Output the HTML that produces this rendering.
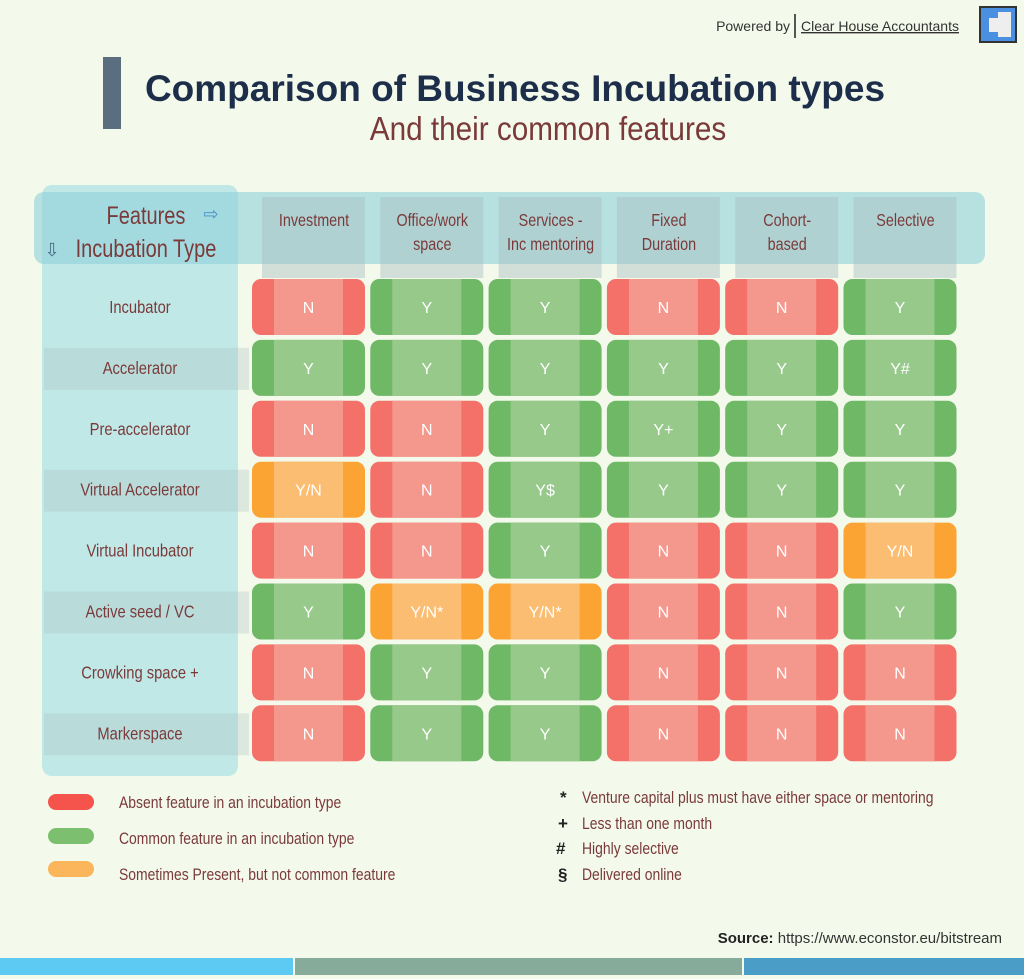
<!DOCTYPE html>
<html><head><meta charset="utf-8">
<style>
html,body{margin:0;padding:0;background:#f3f9eb;}
svg{display:block;font-family:"Liberation Sans",sans-serif;}
</style></head><body>
<svg id="chart" width="1024" height="979" viewBox="0 0 1024 979">
<rect x="0" y="0" width="1024" height="979" fill="#f3f9eb"/>
<text x="790" y="31" font-size="14" fill="#333" text-anchor="end">Powered by</text>
<rect x="794" y="14" width="2" height="24" fill="#555"/>
<text x="801" y="31" font-size="14" fill="#333" text-decoration="underline">Clear House Accountants</text>
<g><rect x="980" y="7" width="36" height="35" fill="#4a8fe0" stroke="#333" stroke-width="2"/><rect x="998" y="12" width="13" height="25" fill="#eee"/><rect x="989" y="18" width="9" height="14" fill="#eee"/></g>
<rect x="103" y="57" width="18" height="72" fill="#5a6e80"/>
<text x="515" y="101" font-size="37" font-weight="bold" fill="#1d2e4a" text-anchor="middle">Comparison of Business Incubation types</text>
<text x="548" y="140" font-size="33" fill="#7a3a3a" text-anchor="middle" transform="translate(548 0) scale(0.9 1) translate(-548 0)">And their common features</text>
<rect x="42" y="185" width="196" height="591" rx="10" fill="#b3e3e6" opacity="0.8"/>
<rect x="34" y="192" width="951" height="72" rx="10" fill="#8fd0db" opacity="0.6"/>
<g id="heads"></g>
<text x="146" y="224" font-size="25" fill="#7a3a3a" text-anchor="middle" transform="translate(146 0) scale(0.8 1) translate(-146 0)">Features</text>
<text x="211" y="220" font-size="18" fill="#4a90c8" text-anchor="middle">⇨</text>
<text x="52" y="256" font-size="18" fill="#4a6a80" text-anchor="middle">⇩</text>
<text x="146" y="257" font-size="25" fill="#7a3a3a" text-anchor="middle" transform="translate(146 0) scale(0.8 1) translate(-146 0)">Incubation Type</text>
<g id="rows"></g>
<g id="cells"></g>
<g>
<rect x="48" y="794" width="46" height="16" rx="8" fill="#f4544c"/><text x="119" y="808" font-size="17" fill="#7a3a3a" transform="translate(119 0) scale(0.82 1) translate(-119 0)">Absent feature in an incubation type</text>
<rect x="48" y="828" width="46" height="16" rx="8" fill="#7cc06f"/><text x="119" y="844" font-size="17" fill="#7a3a3a" transform="translate(119 0) scale(0.82 1) translate(-119 0)">Common feature in an incubation type</text>
<rect x="48" y="861" width="46" height="16" rx="8" fill="#fbb55a"/><text x="119" y="880" font-size="17" fill="#7a3a3a" transform="translate(119 0) scale(0.82 1) translate(-119 0)">Sometimes Present, but not common feature</text>
</g>
<g font-size="17" fill="#7a3a3a">
<text x="560" y="803" fill="#222" font-weight="bold">*</text><text x="582" y="803" transform="translate(582 0) scale(0.82 1) translate(-582 0)">Venture capital plus must have either space or mentoring</text>
<text x="558" y="829" fill="#222" font-weight="bold">+</text><text x="582" y="829" transform="translate(582 0) scale(0.82 1) translate(-582 0)">Less than one month</text>
<text x="556" y="854" fill="#222" font-weight="bold">#</text><text x="582" y="854" transform="translate(582 0) scale(0.82 1) translate(-582 0)">Highly selective</text>
<text x="558" y="880" fill="#222" font-weight="bold">§</text><text x="582" y="880" transform="translate(582 0) scale(0.82 1) translate(-582 0)">Delivered online</text>
</g>
<text x="1002" y="943" font-size="15" fill="#333" text-anchor="end"><tspan font-weight="bold" fill="#222">Source:</tspan> https://www.econstor.eu/bitstream</text>
<rect x="0" y="958" width="293" height="17" fill="#5ccaf2"/>
<rect x="295" y="958" width="447" height="17" fill="#86ab9b"/>
<rect x="744" y="958" width="280" height="17" fill="#4a9dc6"/>
</svg>
<script>
const features=["Investment","Office/work|space","Services -|Inc mentoring","Fixed|Duration","Cohort-|based","Selective"];
const types=["Incubator","Accelerator","Pre-accelerator","Virtual Accelerator","Virtual Incubator","Active seed / VC","Crowking space +","Markerspace"];
const values=[
["N","Y","Y","N","N","Y"],
["Y","Y","Y","Y","Y","Y#"],
["N","N","Y","Y+","Y","Y"],
["Y/N","N","Y$","Y","Y","Y"],
["N","N","Y","N","N","Y/N"],
["Y","Y/N*","Y/N*","N","N","Y"],
["N","Y","Y","N","N","N"],
["N","Y","Y","N","N","N"]];
const NS="http://www.w3.org/2000/svg";
const colX=c=>252+c*118.3, cellW=113;
const rowY=r=>279+r*60.9, cellH=56;
function mk(tag,at,parent){const e=document.createElementNS(NS,tag);for(const k in at)e.setAttribute(k,at[k]);parent.appendChild(e);return e;}
const heads=document.getElementById('heads'),rows=document.getElementById('rows'),cells=document.getElementById('cells');
features.forEach((f,c)=>{
 const x=colX(c);
 const b=mk('rect',{x:x+10,y:197,width:cellW-10,height:81,fill:'#a9bfc0',opacity:0.45},heads);
 
 
 const lines=f.split('|');
 lines.forEach((l,i)=>{
  const t=mk('text',{x:x+62,y:226+i*24,'font-size':18,fill:'#7a3a3a','text-anchor':'middle',transform:`translate(${x+62} 0) scale(0.8 1) translate(${-(x+62)} 0)`},heads);
  t.textContent=l;
  
  
 });
});
types.forEach((t,r)=>{
 const y=rowY(r);
 if(r%2==1){const s=mk('rect',{x:44,y:y+8,width:205,height:42,fill:'#a9bfc0',opacity:0.3},rows);
 
 }
 const tx=mk('text',{x:140,y:y+34,'font-size':18,fill:'#7a3a3a','text-anchor':'middle',transform:`translate(140 0) scale(0.82 1) translate(-140 0)`},rows);
 tx.textContent=t;
 
 
});
const pal={N:['#f4716a','#f4978d'],Y:['#6eb866','#97c98b'],O:['#fba434','#fbbd71']};
values.forEach((row,r)=>row.forEach((v,c)=>{
 const k=v.startsWith('Y/N')?'O':(v[0]==='N'?'N':'Y');
 const x=colX(c),y=rowY(r);
 const g=mk('g',{},cells);
 
 
 mk('rect',{x:x,y:y,width:cellW,height:cellH,rx:9,fill:pal[k][0]},g);
 mk('rect',{x:x+22,y:y,width:cellW-44,height:cellH,fill:pal[k][1]},g);
 const t=mk('text',{x:x+cellW/2,y:y+cellH/2+6,'font-size':16,fill:'#fff','text-anchor':'middle'},g);
 t.textContent=v;
}));
</script>
</body></html>
